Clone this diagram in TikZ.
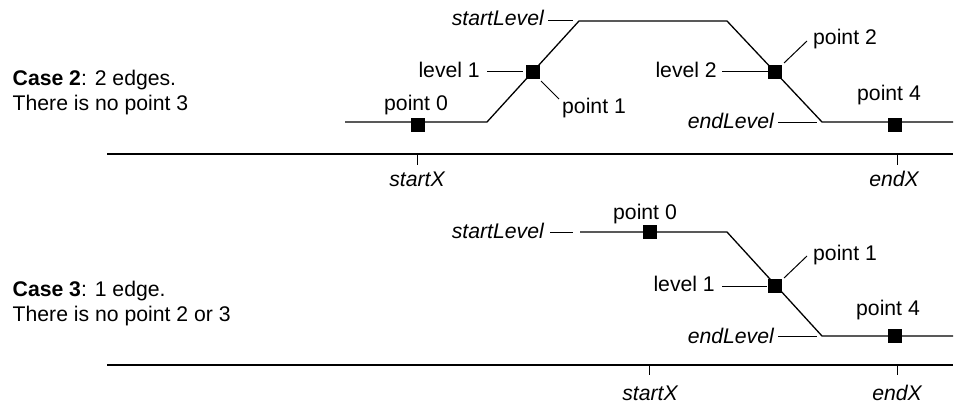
\documentclass[tikz,border=0pt]{standalone}
\usepackage{fontspec}
\setmainfont{Liberation Sans}
\begin{document}
\begin{tikzpicture}[x=1pt,y=-1pt,
  lbl/.style={inner sep=0pt, font=\fontsize{21.2}{25}\selectfont},
  ilbl/.style={inner sep=0pt, font=\fontsize{21.2}{25}\selectfont\itshape},
  sig/.style={line width=1.3pt, line join=miter},
  axisline/.style={line width=1.6pt},
  lead/.style={line width=1pt},
  sq/.style={rectangle, fill=black, draw=none, minimum size=14pt, inner sep=0pt},
]
\useasboundingbox (0,0) rectangle (954,404);

% ---------------- Case 2: two edges ----------------
\node[lbl, anchor=base west] (c2a) at (12.5,85) {\textbf{Case 2}: 2 edges.};
\node[lbl, anchor=base west] (c2b) at (12.5,110.7) {There is no point 3};

% signal
\coordinate (a0) at (345,122);
\coordinate (a1) at (487,122);
\coordinate (a2) at (579,21);
\coordinate (a3) at (727,21);
\coordinate (a4) at (822,122);
\coordinate (a5) at (953,122);
\draw[sig] (a0) -- (a1) -- (a2) -- (a3) -- (a4) -- (a5);

\node[sq] (p0) at (418,125) {};
\node[sq] (p1) at (533,72) {};
\node[sq] (p2) at (775,72) {};
\node[sq] (p4) at (895,125) {};

% labels and leaders
\node[lbl, anchor=base] (p0l) at (416,110.7) {point 0};
\node[lbl, anchor=base east] (l1l) at (480,77.3) {level 1};
\coordinate (l1s) at (487,72); \coordinate (l1e) at (523,72);
\draw[lead] (l1s) -- (l1e);
\node[lbl, anchor=base west] (p1l) at (562,113.3) {point 1};
\coordinate (p1s) at (541,81); \coordinate (p1e) at (559,99);
\draw[lead] (p1s) -- (p1e);
\node[ilbl, anchor=base east] (sll) at (544,26) {startLevel};
\coordinate (sls) at (548,21); \coordinate (sle) at (573,21);
\draw[lead] (sls) -- (sle);
\node[lbl, anchor=base east] (l2l) at (717,77.3) {level 2};
\coordinate (l2s) at (722,72); \coordinate (l2e) at (768,72);
\draw[lead] (l2s) -- (l2e);
\node[lbl, anchor=base west] (p2l) at (813,44.3) {point 2};
\coordinate (p2s) at (784,63); \coordinate (p2e) at (807,41);
\draw[lead] (p2s) -- (p2e);
\node[lbl, anchor=base] (p4l) at (889,101) {point 4};
\node[ilbl, anchor=base east] (ell) at (774,128.3) {endLevel};
\coordinate (els) at (778,122); \coordinate (ele) at (817,122);
\draw[lead] (els) -- (ele);

% time axis
\coordinate (x0) at (107,154);
\coordinate (x1) at (953,154);
\draw[axisline] (x0) -- (x1);
\coordinate (sx) at (417,154); \coordinate (sxe) at (417,165);
\coordinate (ex) at (897,154); \coordinate (exe) at (897,165);
\draw[lead] (sx) -- (sxe);
\draw[lead] (ex) -- (exe);
\node[ilbl, anchor=base] (sxl) at (417,186.7) {startX};
\node[ilbl, anchor=base] (exl) at (894,186.7) {endX};

% ---------------- Case 3: one edge ----------------
\node[lbl, anchor=base west] (c3a) at (12.5,296.7) {\textbf{Case 3}: 1 edge.};
\node[lbl, anchor=base west] (c3b) at (12.5,321.7) {There is no point 2 or 3};

% signal
\coordinate (b0) at (580,232);
\coordinate (b1) at (727,232);
\coordinate (b2) at (822,336);
\coordinate (b3) at (953,336);
\draw[sig] (b0) -- (b1) -- (b2) -- (b3);

\node[sq] (q0) at (650,232) {};
\node[sq] (q1) at (775,286) {};
\node[sq] (q4) at (895,336) {};

% labels and leaders
\node[ilbl, anchor=base east] (sll3) at (544,238.3) {startLevel};
\coordinate (sls3) at (550,232); \coordinate (sle3) at (573,232);
\draw[lead] (sls3) -- (sle3);
\node[lbl, anchor=base] (q0l) at (645,219.3) {point 0};
\node[lbl, anchor=base east] (l1l3) at (715,291) {level 1};
\coordinate (l1s3) at (722,286); \coordinate (l1e3) at (767,286);
\draw[lead] (l1s3) -- (l1e3);
\node[lbl, anchor=base west] (q1l) at (813,260.7) {point 1};
\coordinate (q1s) at (784,278); \coordinate (q1e) at (807,256);
\draw[lead] (q1s) -- (q1e);
\node[ilbl, anchor=base east] (ell3) at (774,343.3) {endLevel};
\coordinate (els3) at (778,336); \coordinate (ele3) at (817,336);
\draw[lead] (els3) -- (ele3);
\node[lbl, anchor=base] (q4l) at (888,315.7) {point 4};

% time axis
\coordinate (y0) at (107,365);
\coordinate (y1) at (953,365);
\draw[axisline] (y0) -- (y1);
\coordinate (sx3) at (649,365); \coordinate (sxe3) at (649,375);
\coordinate (ex3) at (897,365); \coordinate (exe3) at (897,375);
\draw[lead] (sx3) -- (sxe3);
\draw[lead] (ex3) -- (exe3);
\node[ilbl, anchor=base] (sxl3) at (650,400) {startX};
\node[ilbl, anchor=base] (exl3) at (897,400) {endX};
\end{tikzpicture}
\end{document}
